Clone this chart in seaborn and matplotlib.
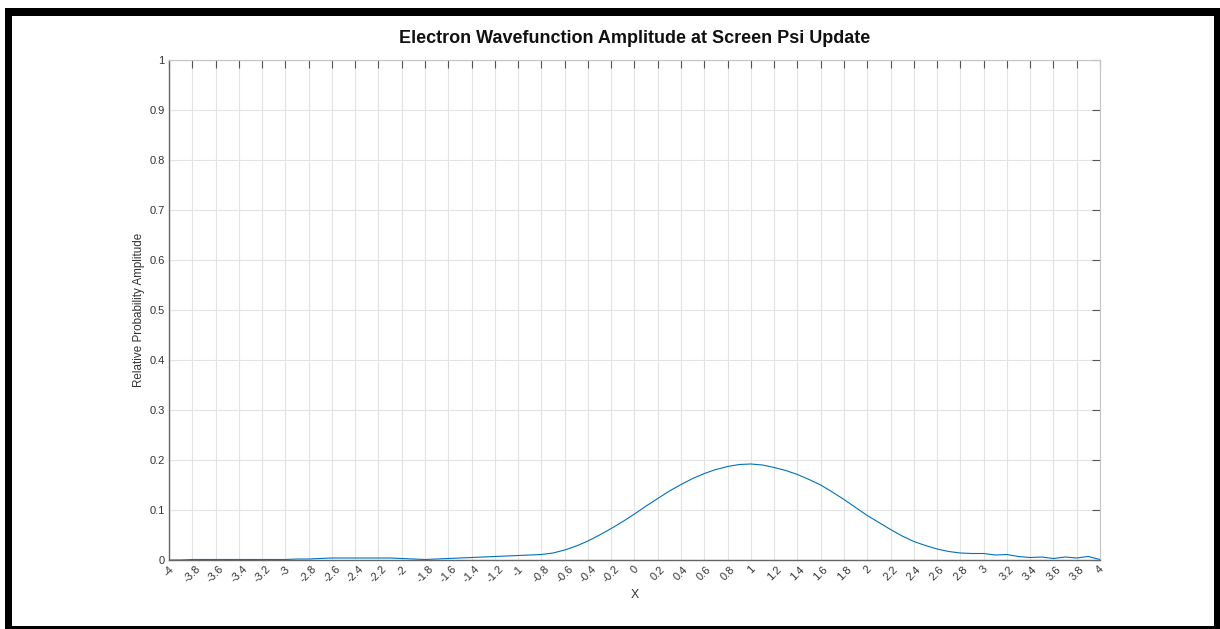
import numpy as np
import pandas as pd
import seaborn as sns
import matplotlib.pyplot as plt
from matplotlib.patches import Rectangle

# positions along the screen and the read-off amplitude
x_pos = [-4.0, -3.9, -3.8, -3.7, -3.6, -3.5, -3.4, -3.3, -3.2, -3.1,
         -3.0, -2.9, -2.8, -2.7, -2.6, -2.5, -2.4, -2.3, -2.2, -2.1,
         -2.0, -1.9, -1.8, -1.7, -1.6, -1.5, -1.4, -1.3, -1.2, -1.1,
         -1.0, -0.9, -0.8, -0.7, -0.6, -0.5, -0.4, -0.3, -0.2, -0.1,
         0.0, 0.1, 0.2, 0.3, 0.4, 0.5, 0.6, 0.7, 0.8, 0.9,
         1.0, 1.1, 1.2, 1.3, 1.4, 1.5, 1.6, 1.7, 1.8, 1.9,
         2.0, 2.1, 2.2, 2.3, 2.4, 2.5, 2.6, 2.7, 2.8, 2.9,
         3.0, 3.1, 3.2, 3.3, 3.4, 3.5, 3.6, 3.7, 3.8, 3.9, 4.0]
amplitude = [0.000, 0.000, 0.001, 0.001, 0.001, 0.001, 0.001, 0.001, 0.001, 0.001,
             0.001, 0.002, 0.002, 0.003, 0.004, 0.004, 0.004, 0.004, 0.004, 0.004,
             0.003, 0.002, 0.001, 0.002, 0.003, 0.004, 0.005, 0.006, 0.007, 0.008,
             0.009, 0.010, 0.011, 0.014, 0.020, 0.028, 0.038, 0.050, 0.063, 0.077,
             0.092, 0.108, 0.123, 0.138, 0.151, 0.163, 0.173, 0.181, 0.187, 0.191,
             0.192, 0.190, 0.185, 0.179, 0.171, 0.161, 0.150, 0.136, 0.121, 0.105,
             0.089, 0.075, 0.061, 0.048, 0.037, 0.029, 0.022, 0.017, 0.014, 0.013,
             0.013, 0.010, 0.011, 0.007, 0.005, 0.006, 0.003, 0.006, 0.004, 0.007, 0.001]

x_ticks = [-4 + 0.2 * i for i in range(41)]
x_labels = ["-4", "-3.8", "-3.6", "-3.4", "-3.2", "-3", "-2.8", "-2.6", "-2.4", "-2.2",
            "-2", "-1.8", "-1.6", "-1.4", "-1.2", "-1", "-0.8", "-0.6", "-0.4", "-0.2",
            "0", "0.2", "0.4", "0.6", "0.8", "1", "1.2", "1.4", "1.6", "1.8",
            "2", "2.2", "2.4", "2.6", "2.8", "3", "3.2", "3.4", "3.6", "3.8", "4"]
y_ticks = [0, 0.1, 0.2, 0.3, 0.4, 0.5, 0.6, 0.7, 0.8, 0.9, 1]
y_labels = ["0", "0.1", "0.2", "0.3", "0.4", "0.5", "0.6", "0.7", "0.8", "0.9", "1"]

df = pd.DataFrame({"x": x_pos, "amp": amplitude})

sns.set_style("white")
plt.rcParams["font.family"] = ["Liberation Sans", "DejaVu Sans"]

W, H = 1220, 629
fig = plt.figure(figsize=(W / 100, H / 100), dpi=100)
ax = fig.add_axes([169 / W, 1 - 560 / H, (1100 - 169) / W, (560 - 60) / H])

sns.lineplot(data=df, x="x", y="amp", ax=ax, color="#0072BD", linewidth=0.8)

ax.set_xlim(-4, 4)
ax.set_ylim(0, 1)
ax.set_xticks(x_ticks)
ax.set_xticklabels(x_labels, rotation=45, ha="center", va="top", fontsize=8, color="#333333")
ax.set_yticks(y_ticks)
ax.set_yticklabels(y_labels, fontsize=8, color="#333333")
ax.grid(True, color="#e3e3e3", linewidth=0.8)
ax.tick_params(direction="in", length=6, width=0.8, color="#555555",
               top=True, right=True, labeltop=False, labelright=False, pad=3)

for side in ["left", "bottom"]:
    ax.spines[side].set_color("#666666")
    ax.spines[side].set_linewidth(1.0)
for side in ["top", "right"]:
    ax.spines[side].set_color("#c4c4c4")
    ax.spines[side].set_linewidth(0.8)

ax.set_title("Electron Wavefunction Amplitude at Screen Psi Update",
             fontsize=13, fontweight="bold", color="#111111", pad=12.5)
ax.set_xlabel("X", fontsize=8.8, color="#333333", labelpad=3)
ax.set_ylabel("Relative Probability Amplitude", fontsize=8.4, color="#333333", labelpad=3)

# black screenshot frame
def frame(x0, y0, x1, y1):
    fig.add_artist(Rectangle((x0 / W, 1 - y1 / H), (x1 - x0) / W, (y1 - y0) / H,
                             transform=fig.transFigure, color="black", lw=0))

frame(5, 8, 1220, 16)
frame(5, 8, 12, 629)
frame(1214, 8, 1220, 629)
frame(5, 626, 1220, 629)

fig.savefig("out.png", dpi=100)
